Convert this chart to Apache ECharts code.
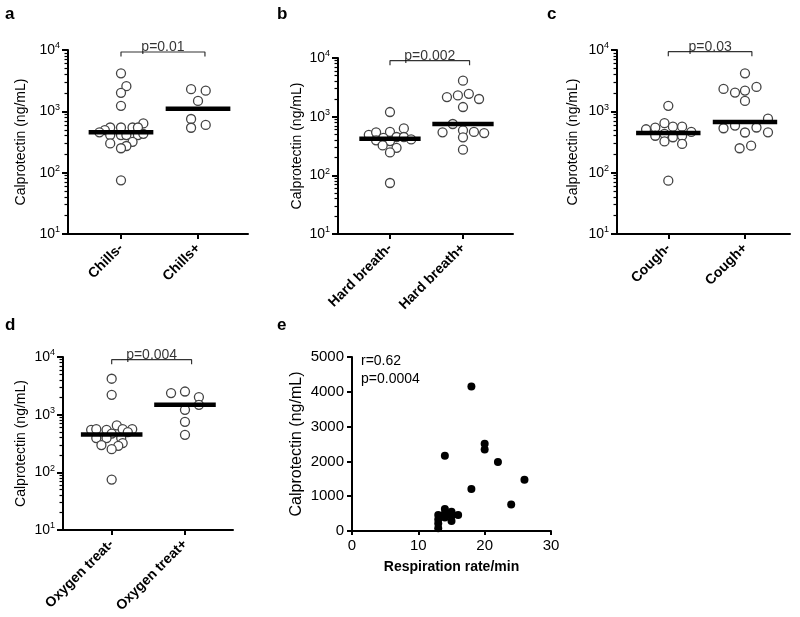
<!DOCTYPE html>
<html><head><meta charset="utf-8">
<script src="https://cdn.jsdelivr.net/npm/echarts@6/dist/echarts.min.js"></script>
<style>html,body{margin:0;padding:0;background:#fff}#c{width:800px;height:617px}</style>
</head><body><div id="c"></div>
<script>
const FONT = '"Liberation Sans", Arial, Helvetica, sans-serif';

// ---- Panel a: Chills ----
const catsA = ['Chills-', 'Chills+'];
const aNegValues = [4170, 2570, 2000, 1230, 635, 545, 545, 545, 545, 495, 455, 410, 410, 410, 410, 430, 300, 318, 272, 250, 75];
const aNegJitter = [0, 0.07, 0, 0, 0.29, -0.14, 0, 0.15, 0.22, -0.21, -0.28, -0.14, 0, 0.07, 0.22, 0.29, -0.14, 0.15, 0.07, 0, 0];
const aPosValues = [2300, 2170, 1480, 750, 540, 600];
const aPosJitter = [-0.09, 0.1, 0, -0.09, -0.09, 0.1];
const mediansA = [455, 1100];

// ---- Panel b: Hard breath ----
const catsB = ['Hard breath-', 'Hard breath+'];
const bNegValues = [1200, 630, 490, 540, 550, 435, 450, 450, 410, 395, 383, 323, 294, 246, 74];
const bNegJitter = [0, 0.19, -0.29, -0.19, 0, -0.09, 0.09, 0.19, 0.29, -0.19, 0, -0.1, 0.09, 0, 0];
const bPosValues = [4100, 2160, 2300, 2450, 2000, 1460, 750, 540, 585, 550, 525, 445, 274];
const bPosJitter = [0, -0.22, -0.07, 0.08, 0.22, 0, -0.14, -0.28, 0, 0.15, 0.29, 0, 0];
const mediansB = [420, 750];

// ---- Panel c: Cough ----
const catsC = ['Cough-', 'Cough+'];
const cNegValues = [1230, 640, 510, 543, 563, 563, 462, 400, 430, 378, 400, 323, 294, 74];
const cNegJitter = [0, -0.05, -0.29, -0.17, 0.06, 0.18, 0.3, -0.17, -0.05, 0.06, 0.18, -0.05, 0.18, 0];
const cPosValues = [4170, 2320, 2020, 2180, 2500, 1480, 760, 530, 585, 545, 452, 455, 250, 275];
const cPosJitter = [0, -0.28, -0.13, 0, 0.15, 0, 0.3, -0.28, -0.13, 0.15, 0, 0.3, -0.07, 0.08];
const mediansC = [445, 670];

// ---- Panel d: Oxygen treat ----
const catsD = ['Oxygen treat-', 'Oxygen treat+'];
const dNegValues = [4200, 2210, 650, 547, 560, 547, 560, 560, 500, 470, 393, 393, 393, 297, 321, 288, 252, 75];
const dNegJitter = [0, 0, 0.07, -0.28, -0.21, -0.07, 0.15, 0.28, 0.22, 0, -0.21, -0.07, 0.13, -0.14, 0.15, 0.09, 0, 0];
const dPosValues = [2370, 2520, 2020, 1480, 1215, 750, 447];
const dPosJitter = [-0.19, 0, 0.19, 0.19, 0, 0, 0];
const mediansD = [455, 1490];

// ---- Panel e: Respiration rate vs calprotectin ----
const eRespRate = [13, 13, 13, 13, 14, 14, 14, 14, 15, 15, 15, 16, 18, 18, 20, 20, 22, 24, 26];
const eCalpro = [76, 219, 333, 457, 390, 505, 630, 2160, 286, 430, 552, 457, 1210, 4150, 2340, 2510, 1980, 760, 1476];

// axis ticks
const logMajorTicks = [10, 100, 1000, 10000];
const logMinorTicks = [20, 30, 40, 50, 60, 70, 80, 90, 200, 300, 400, 500, 600, 700, 800, 900,
  2000, 3000, 4000, 5000, 6000, 7000, 8000, 9000];

const panels = [
  {cats: catsA, neg: [aNegJitter, aNegValues], pos: [aPosJitter, aPosValues], med: mediansA, p: 'p=0.01',
   grid: {left: 68, top: 50, width: 180, height: 184}, xr: [0.312, 2.649], br: [7834, 9276], nameGap: 40},
  {cats: catsB, neg: [bNegJitter, bNegValues], pos: [bPosJitter, bPosValues], med: mediansB, p: 'p=0.002',
   grid: {left: 338, top: 58, width: 175, height: 176}, xr: [0.288, 2.685], br: [7540, 8990], nameGap: 34},
  {cats: catsC, neg: [cNegJitter, cNegValues], pos: [cPosJitter, cPosValues], med: mediansC, p: 'p=0.03',
   grid: {left: 617, top: 50, width: 173, height: 184}, xr: [0.331, 2.587], br: [7900, 9380], nameGap: 37},
  {cats: catsD, neg: [dNegJitter, dNegValues], pos: [dPosJitter, dPosValues], med: mediansD, p: 'p=0.004',
   grid: {left: 63, top: 357, width: 170, height: 173}, xr: [0.336, 2.655], br: [7500, 8980], nameGap: 35}
];

const grids = [], xAxes = [], yAxes = [], series = [];
const axisLineStyle = {color: '#000', width: 2};

panels.forEach((pn, i) => {
  grids.push(pn.grid);
  xAxes.push({
    type: 'value', gridIndex: i, min: pn.xr[0], max: pn.xr[1],
    axisLine: {show: true, onZero: false, lineStyle: axisLineStyle},
    axisTick: {show: true, customValues: [1, 2], length: 5, lineStyle: {color: '#000', width: 2}},
    axisLabel: {show: true, customValues: [1, 2], rotate: 45, margin: 12,
      formatter: v => pn.cats[Math.round(v) - 1], fontFamily: FONT, fontWeight: 'bold', fontSize: 14, color: '#000'},
    splitLine: {show: false}
  });
  const yMain = yAxes.length;
  yAxes.push({
    type: 'log', logBase: 10, gridIndex: i, min: 10, max: 10000, position: 'left',
    name: 'Calprotectin (ng/mL)', nameLocation: 'middle', nameGap: pn.nameGap, nameRotate: 90,
    nameTextStyle: {fontFamily: FONT, fontSize: 14, color: '#000'},
    axisLine: {show: true, lineStyle: axisLineStyle},
    axisTick: {show: true, customValues: logMajorTicks, length: 6, lineStyle: {color: '#000', width: 2}},
    axisLabel: {margin: 8, customValues: logMajorTicks, fontFamily: FONT, color: '#000',
      formatter: v => '{b|10}{s|' + Math.round(Math.log10(v)) + '}',
      rich: {b: {fontSize: 14, fontFamily: FONT, color: '#000'},
             s: {fontSize: 9, fontFamily: FONT, color: '#000', padding: [0, 0, 8, 0]}}},
    splitLine: {show: false}
  });
  yAxes.push({
    type: 'log', logBase: 10, gridIndex: i, min: 10, max: 10000, position: 'left', offset: 0,
    axisLine: {show: false},
    axisTick: {show: true, customValues: logMinorTicks, length: 3.5, lineStyle: {color: '#000', width: 1.2}},
    axisLabel: {show: false}, splitLine: {show: false}
  });
  [pn.neg, pn.pos].forEach((g, gi) => {
    series.push({
      type: 'scatter', xAxisIndex: i, yAxisIndex: yMain, symbol: 'circle', symbolSize: 9,
      itemStyle: {color: '#fff', borderColor: '#444', borderWidth: 1.3, opacity: 1},
      data: g[0].map((j, k) => [gi + 1 + j, g[1][k]]), z: 2
    });
    series.push({
      type: 'line', xAxisIndex: i, yAxisIndex: yMain, symbol: 'none', z: 5,
      lineStyle: {color: '#000', width: 4.5},
      data: [[gi + 1 - 0.42, pn.med[gi]], [gi + 1 + 0.42, pn.med[gi]]]
    });
  });
  series.push({
    type: 'line', xAxisIndex: i, yAxisIndex: yMain, symbol: 'none', z: 4,
    lineStyle: {color: '#333', width: 1.2},
    data: [[1, pn.br[0]], [1, pn.br[1]], [2.09, pn.br[1]], [2.09, pn.br[0]]]
  });
  series.push({
    type: 'scatter', xAxisIndex: i, yAxisIndex: yMain, symbolSize: 0, z: 6,
    data: [[1.545, pn.br[1]]],
    label: {show: true, position: 'top', distance: -2, formatter: pn.p,
      fontFamily: FONT, fontSize: 14, color: '#000'}
  });
});

// panel e
const ei = panels.length;
grids.push({left: 352, top: 357, width: 199, height: 174});
xAxes.push({
  type: 'value', gridIndex: ei, min: 0, max: 30, interval: 10,
  name: 'Respiration rate/min', nameLocation: 'middle', nameGap: 29,
  nameTextStyle: {fontFamily: FONT, fontSize: 14, fontWeight: 'bold', color: '#000'},
  axisLine: {show: true, onZero: false, lineStyle: axisLineStyle},
  axisTick: {show: true, length: 4, lineStyle: {color: '#000', width: 2}},
  axisLabel: {margin: 7, fontFamily: FONT, fontSize: 15, color: '#000', formatter: v => String(v)},
  splitLine: {show: false}
});
const eY = yAxes.length;
yAxes.push({
  type: 'value', gridIndex: ei, min: 0, max: 5000, interval: 1000,
  name: 'Calprotectin (ng/mL)', nameLocation: 'middle', nameGap: 47, nameRotate: 90,
  nameTextStyle: {fontFamily: FONT, fontSize: 16, color: '#000'},
  axisLine: {show: true, onZero: false, lineStyle: axisLineStyle},
  axisTick: {show: true, length: 5, lineStyle: {color: '#000', width: 2}},
  axisLabel: {margin: 8, fontFamily: FONT, fontSize: 15, color: '#000', formatter: v => String(v)},
  splitLine: {show: false}
});
series.push({
  type: 'scatter', xAxisIndex: ei, yAxisIndex: eY, symbol: 'circle', symbolSize: 8,
  itemStyle: {color: '#000', opacity: 1},
  data: eRespRate.map((r, k) => [r, eCalpro[k]])
});

const letterStyle = {fontFamily: FONT, fontSize: 17, fontWeight: 'bold', fill: '#000', textVerticalAlign: 'middle'};
const textStyle = {fontFamily: FONT, fontSize: 14, fill: '#000', textVerticalAlign: 'middle'};
const graphic = [
  {type: 'text', left: 5, top: 6, style: Object.assign({text: 'a'}, letterStyle)},
  {type: 'text', left: 277, top: 6, style: Object.assign({text: 'b'}, letterStyle)},
  {type: 'text', left: 547, top: 6, style: Object.assign({text: 'c'}, letterStyle)},
  {type: 'text', left: 5, top: 317, style: Object.assign({text: 'd'}, letterStyle)},
  {type: 'text', left: 277, top: 317, style: Object.assign({text: 'e'}, letterStyle)},
  {type: 'text', left: 361, top: 354, style: Object.assign({text: 'r=0.62'}, textStyle)},
  {type: 'text', left: 361, top: 372, style: Object.assign({text: 'p=0.0004'}, textStyle)}
];

const chart = echarts.init(document.getElementById('c'), null, {renderer: 'canvas'});
chart.setOption({
  animation: false,
  backgroundColor: '#fff',
  textStyle: {fontFamily: FONT},
  grid: grids, xAxis: xAxes, yAxis: yAxes, series: series, graphic: graphic
});
</script>
</body></html>
